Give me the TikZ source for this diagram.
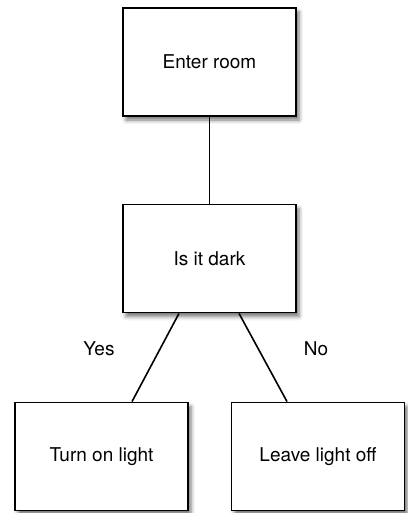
\documentclass[tikz,border=0pt]{standalone}
\usepackage{fontspec}
\setmainfont{TeX Gyre Heros}
\usetikzlibrary{shadows.blur}
\begin{document}
\begin{tikzpicture}[x=1pt,y=-1pt,
  boxnode/.style={draw=black, line width=1.8pt, fill=white, minimum width=173pt, minimum height=108pt, inner sep=0pt,
    font=\fontsize{19}{22}\selectfont,
    blur shadow={shadow xshift=3pt, shadow yshift=-4pt, shadow blur radius=4pt, shadow opacity=55}},
  conn/.style={draw=black, line width=1.6pt},
  lbl/.style={font=\fontsize{19}{22}\selectfont}]
\useasboundingbox (0,0) rectangle (407,513);
\node[boxnode] (enter) at (209.5,62) {Enter room};
\node[boxnode] (dark) at (209.5,258.5) {Is it dark};
\node[boxnode] (on) at (101.5,456.5) {Turn on light};
\node[boxnode] (off) at (318,456.5) {Leave light off};
\draw[conn] (enter.south) -- (dark.north);
\draw[conn] ([xshift=-30.5pt]dark.south) -- ([xshift=30.5pt]on.north);
\draw[conn] ([xshift=29.5pt]dark.south) -- ([xshift=-31pt]off.north);
\node[lbl] (yes) at (99,349) {Yes};
\node[lbl] (no) at (316,349) {No};
\end{tikzpicture}
\end{document}
